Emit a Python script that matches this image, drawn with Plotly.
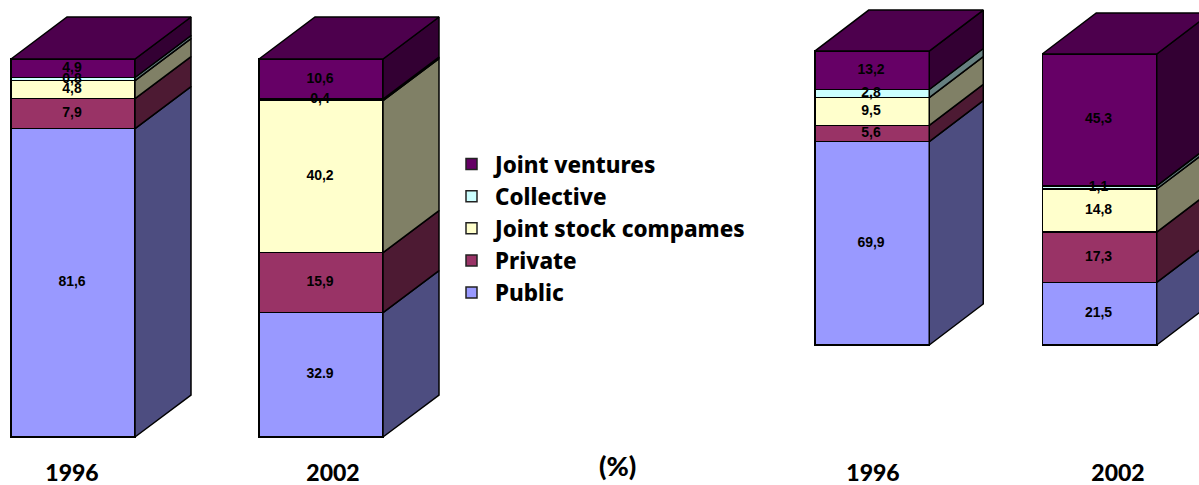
import plotly.graph_objects as go

series_names = ["Public", "Private", "Joint stock compames", "Collective", "Joint ventures"]
front_colors = ["#9999FF", "#993366", "#FFFFCC", "#CCFFFF", "#660066"]
side_colors = ["#4D4D80", "#4D1A33", "#808066", "#668080", "#330033"]
top_color = "#4D004D"

left_years = ["1996", "2002"]
left_public = [81.6, 32.9]
left_private = [7.9, 15.9]
left_joint_stock = [4.8, 40.2]
left_collective = [0.8, 0.4]
left_joint_ventures = [4.9, 10.6]
left_labels = [["81,6", "32.9"], ["7,9", "15,9"], ["4,8", "40,2"], ["0,8", "0,4"], ["4,9", "10,6"]]

right_years = ["1996", "2002"]
right_public = [69.9, 21.5]
right_private = [5.6, 17.3]
right_joint_stock = [9.5, 14.8]
right_collective = [2.8, 1.1]
right_joint_ventures = [13.2, 45.3]
right_labels = [["69,9", "21,5"], ["5,6", "17,3"], ["9,5", "14,8"], ["2,8", "1,1"], ["13,2", "45,3"]]

W, H = 1199, 485
MB = 28
plot_h = H - MB

panels = [
    dict(vals=[left_public, left_private, left_joint_stock, left_collective, left_joint_ventures],
         labels=left_labels, centers=[73, 321], width=124, dx=56, dy_px=42,
         base_px=437, scale=3.78, xa="x", ya="y"),
    dict(vals=[right_public, right_private, right_joint_stock, right_collective, right_joint_ventures],
         labels=right_labels, centers=[872, 1099.5], width=114.5, dx=54, dy_px=41,
         base_px=345, scale=2.91, xa="x2", ya="y2"),
]

fig = go.Figure()
label_traces = []
for p in panels:
    dy = p["dy_px"] / p["scale"]
    cum = [0.0, 0.0]
    side_polys = []
    for i, vals in enumerate(p["vals"]):
        fig.add_trace(go.Bar(
            x=p["centers"], y=vals, width=p["width"],
            marker=dict(color=front_colors[i], line=dict(color="black", width=1.5)),
            showlegend=False, xaxis=p["xa"], yaxis=p["ya"], hoverinfo="skip"))
        xs, ys = [], []
        mids = []
        for k, c in enumerate(p["centers"]):
            r = c + p["width"] / 2
            y0, y1 = cum[k], cum[k] + vals[k]
            xs += [r, r + p["dx"], r + p["dx"], r, r, None]
            ys += [y0, y0 + dy, y1 + dy, y1, y0, None]
            mids.append((y0 + y1) / 2)
            cum[k] = y1
        side_polys.append((i, xs, ys))
        label_traces.append(go.Scatter(
            x=[c - 1 for c in p["centers"]], y=mids, mode="text", text=p["labels"][i],
            textposition="middle center",
            textfont=dict(family="Liberation Sans", size=14, color="black", weight=700),
            showlegend=False, xaxis=p["xa"], yaxis=p["ya"], hoverinfo="skip"))
    for i, xs, ys in side_polys:
        fig.add_trace(go.Scatter(x=xs, y=ys, mode="lines", fill="toself", fillcolor=side_colors[i],
                                 line=dict(color="black", width=1.5), showlegend=False,
                                 xaxis=p["xa"], yaxis=p["ya"], hoverinfo="skip"))
    xs, ys = [], []
    for k, c in enumerate(p["centers"]):
        l, r = c - p["width"] / 2, c + p["width"] / 2
        t = cum[k]
        xs += [l, r, r + p["dx"], l + p["dx"], l, None]
        ys += [t, t, t + dy, t + dy, t, None]
    fig.add_trace(go.Scatter(x=xs, y=ys, mode="lines", fill="toself", fillcolor=top_color,
                             line=dict(color="black", width=1.5), showlegend=False,
                             xaxis=p["xa"], yaxis=p["ya"], hoverinfo="skip"))

for tr in label_traces:
    fig.add_trace(tr)

for i in reversed(range(len(series_names))):
    name = series_names[i]
    fig.add_trace(go.Scatter(x=[None], y=[None], mode="markers", name=name, legendgroup=name,
                             marker=dict(symbol="square", size=11, color=front_colors[i],
                                         line=dict(color="#222222", width=1.5))))


def yrange(p):
    return [-(plot_h - p["base_px"]) / p["scale"], p["base_px"] / p["scale"]]


axis_font = dict(family="Lato", size=23, color="black", weight=900)
common_x = dict(range=[0, W], domain=[0, 1], showgrid=False, zeroline=False, showline=False,
                ticks="", tickmode="array", tickfont=axis_font, automargin=False)
common_y = dict(showgrid=False, zeroline=False, showline=False, showticklabels=False, ticks="",
                automargin=False)

fig.update_layout(
    width=W, height=H, margin=dict(l=0, r=0, t=0, b=MB),
    paper_bgcolor="white", plot_bgcolor="white", barmode="stack",
    xaxis=dict(common_x, tickvals=[72, 333], ticktext=left_years, anchor="y"),
    xaxis2=dict(common_x, tickvals=[873, 1118], ticktext=right_years, anchor="y2",
                overlaying="x", side="bottom"),
    yaxis=dict(common_y, range=yrange(panels[0]), anchor="x"),
    yaxis2=dict(common_y, range=yrange(panels[1]), anchor="x2", overlaying="y"),
    legend=dict(x=448 / W, y=1 - 143 / plot_h, xanchor="left", yanchor="top",
                traceorder="grouped", tracegroupgap=0, itemsizing="trace", itemwidth=37,
                font=dict(family="Noto Sans", size=22.4, color="black", weight=800),
                bgcolor="rgba(0,0,0,0)"),
    annotations=[dict(text="(%)", x=617 / W, y=1 - 465 / plot_h, xref="paper", yref="paper",
                      xanchor="center", yanchor="middle", showarrow=False,
                      font=dict(family="Lato", size=27, color="black", weight=900))],
    showlegend=True,
)

fig.write_html("out.html", config=dict(displayModeBar=False),
               post_script="document.body.style.margin='0';document.body.style.overflow='hidden';")
